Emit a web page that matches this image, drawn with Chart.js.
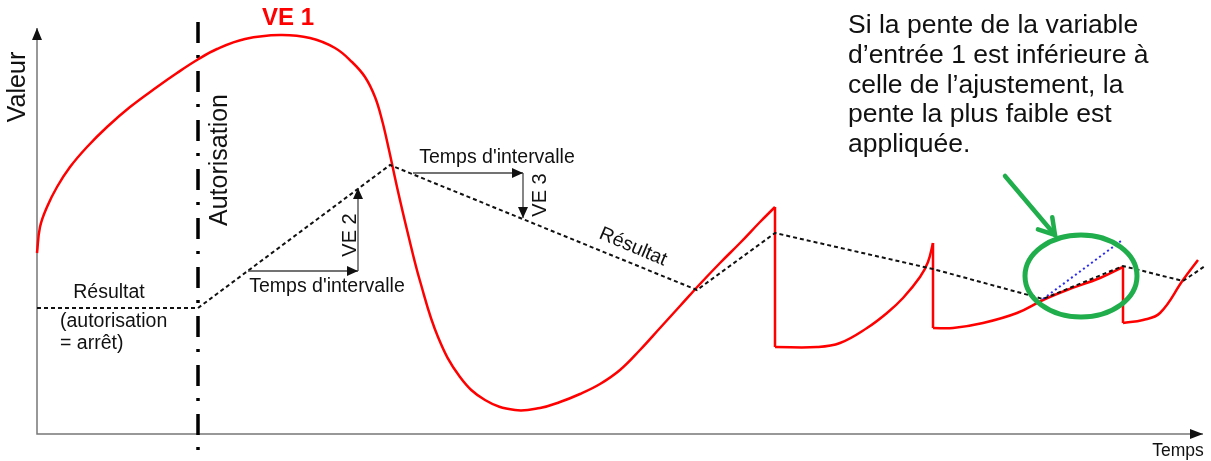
<!DOCTYPE html>
<html>
<head>
<meta charset="utf-8">
<script src="https://cdn.jsdelivr.net/npm/chart.js@4/dist/chart.umd.min.js"></script>
<style>
html,body{margin:0;padding:0;background:#fff}
#wrap{width:1211px;height:461px;position:relative}
</style>
</head>
<body>
<div id="wrap"><canvas id="c"></canvas></div>
<script>
// time (t) / value (v), origin at the axes corner
const ve1A_t = [0, 3, 10, 20, 33, 50, 70, 93, 120, 140, 160, 180, 208, 243, 273, 298, 315, 328, 338, 345, 352, 360, 371, 383, 401, 423, 448, 478, 503, 523, 543, 563, 583, 603, 623, 643, 663, 683, 703, 723, 738];
const ve1A_v = [181, 207, 227, 247, 267, 287, 307, 327, 347, 361, 374, 385, 395, 399, 396, 386, 372, 357, 337, 314, 284, 247, 200, 153, 97, 57, 34, 24, 26, 32, 40, 50, 64, 84, 106, 128, 150, 171, 191, 212, 227];
const ve1B_t = [738, 780, 803, 830, 850, 866, 883, 891, 896];
const ve1B_v = [87, 87, 91, 106, 121, 136, 157, 172, 191];
const ve1C_t = [896, 916, 946, 980, 1006, 1030, 1063, 1086];
const ve1C_v = [106, 106, 111, 121, 134, 144, 156, 167];
const ve1D_t = [1086, 1106, 1123, 1146, 1161];
const ve1D_v = [111, 114, 121, 154, 174];
// vertical resets of VE 1
const drop_t = [738, 896, 1086];
const dropTop_v = [227, 191, 167];
const dropBot_v = [87, 106, 111];

const res_t = [0, 161, 353, 660, 738, 896, 1006, 1086, 1146, 1168];
const res_v = [126, 126, 269, 144, 201, 165, 135, 168, 153, 168];

const slope_t = [1006, 1084];
const slope_v = [135, 193];

const autorisation_t = 161;

const FONT = '"Liberation Sans", Arial, Helvetica, sans-serif';
const RED = '#ff0000';
const GREEN = '#1fae4b';

function pts(ts, vs){ return ts.map((t,i)=>({x:t, y:vs[i]})); }

function line(data, color, width, opts){
  return Object.assign({data, showLine:true, borderColor:color, borderWidth:width,
    pointRadius:0, fill:false, tension:0}, opts||{});
}

const datasets = [
  line(pts(res_t, res_v), '#111', 2, {borderDash:[4,3]}),
  line(pts(slope_t, slope_v), '#2a2aff', 2, {borderDash:[2,3]}),
  line(pts(ve1A_t, ve1A_v), RED, 2.5, {tension:0.4}),
  line(pts(ve1B_t, ve1B_v), RED, 2.5, {tension:0.4}),
  line(pts(ve1C_t, ve1C_v), RED, 2.5, {tension:0.4}),
  line(pts(ve1D_t, ve1D_v), RED, 2.5, {tension:0.4}),
];
drop_t.forEach((t,i)=>{
  datasets.push(line([{x:t,y:dropTop_v[i]},{x:t,y:dropBot_v[i]}], RED, 2.5));
});

function head(ctx, x1, y1, x2, y2, len, half, color){
  const a = Math.atan2(y2-y1, x2-x1);
  ctx.save();
  ctx.fillStyle = color;
  ctx.beginPath();
  ctx.moveTo(x2, y2);
  ctx.lineTo(x2 - len*Math.cos(a) + half*Math.sin(a), y2 - len*Math.sin(a) - half*Math.cos(a));
  ctx.lineTo(x2 - len*Math.cos(a) - half*Math.sin(a), y2 - len*Math.sin(a) + half*Math.cos(a));
  ctx.closePath();
  ctx.fill();
  ctx.restore();
}

function arrow(ctx, x1, y1, x2, y2, color, w, len, half){
  ctx.save();
  ctx.strokeStyle = color; ctx.lineWidth = w;
  ctx.beginPath(); ctx.moveTo(x1,y1); ctx.lineTo(x2,y2); ctx.stroke();
  ctx.restore();
  head(ctx, x1, y1, x2, y2, len, half, '#111');
}

function text(ctx, s, x, y, size, opts){
  opts = opts||{};
  ctx.save();
  ctx.font = (opts.bold?'bold ':'') + size + 'px ' + FONT;
  ctx.fillStyle = opts.color || '#111';
  ctx.textAlign = opts.align || 'center';
  ctx.textBaseline = opts.baseline || 'middle';
  ctx.translate(x, y);
  if (opts.rot) ctx.rotate(opts.rot);
  ctx.fillText(s, 0, 0);
  ctx.restore();
}

const diagram = {
  id:'diagram',
  beforeDatasetsDraw(chart){
    const ctx = chart.ctx, X = chart.scales.x, Y = chart.scales.y;
    const px = t => X.getPixelForValue(t), py = v => Y.getPixelForValue(v);
    // axes
    ctx.save();
    ctx.strokeStyle = '#777'; ctx.lineWidth = 1.5;
    ctx.beginPath();
    ctx.moveTo(px(0), py(406)); ctx.lineTo(px(0), py(0)); ctx.lineTo(px(1166), py(0));
    ctx.stroke();
    ctx.restore();
    head(ctx, px(0), py(0), px(0), py(406), 12, 5, '#111');
    head(ctx, px(0), py(0), px(1166), py(0), 13, 5, '#111');
    // autorisation line
    ctx.save();
    ctx.strokeStyle = '#000'; ctx.lineWidth = 3.5;
    ctx.setLineDash([21,12,3,13]);
    ctx.beginPath(); ctx.moveTo(px(autorisation_t), py(412)); ctx.lineTo(px(autorisation_t), py(-27)); ctx.stroke();
    ctx.restore();
  },
  afterDatasetsDraw(chart){
    const ctx = chart.ctx, X = chart.scales.x, Y = chart.scales.y;
    const px = t => X.getPixelForValue(t), py = v => Y.getPixelForValue(v);
    // VE 2 / VE 3 construction arrows
    arrow(ctx, px(211), py(163), px(321), py(163), '#444', 1.3, 11, 5);
    arrow(ctx, px(321), py(163), px(321), py(246), '#444', 1.3, 11, 5);
    arrow(ctx, px(376), py(261), px(486), py(261), '#444', 1.3, 11, 5);
    arrow(ctx, px(486), py(261), px(486), py(216), '#444', 1.3, 11, 5);

    // green ellipse + arrow
    ctx.save();
    ctx.strokeStyle = GREEN; ctx.lineWidth = 5;
    ctx.beginPath();
    ctx.ellipse(px(1044), py(158), 56, 41, 0, 0, Math.PI*2);
    ctx.stroke();
    const ax1 = px(968), ay1 = py(258), ax2 = px(1018), ay2 = py(199);
    ctx.lineCap = 'round'; ctx.lineWidth = 4.5;
    ctx.beginPath(); ctx.moveTo(ax1, ay1); ctx.lineTo(ax2, ay2); ctx.stroke();
    const a = Math.atan2(ay2-ay1, ax2-ax1);
    ctx.beginPath();
    ctx.moveTo(ax2 - 18*Math.cos(a-0.55), ay2 - 18*Math.sin(a-0.55));
    ctx.lineTo(ax2, ay2);
    ctx.lineTo(ax2 - 18*Math.cos(a+0.55), ay2 - 18*Math.sin(a+0.55));
    ctx.stroke();
    ctx.restore();

    // labels
    const R = -Math.PI/2;
    text(ctx, 'Valeur', px(-19), py(347), 25, {rot:R});
    text(ctx, 'Autorisation', px(183), py(274), 25, {rot:R});
    text(ctx, 'VE 1', px(251), py(416), 24, {bold:true, color:RED});
    text(ctx, 'VE 2', px(313), py(199), 20, {rot:R});
    text(ctx, 'VE 3', px(503), py(239), 20, {rot:R});
    text(ctx, "Temps d'intervalle", px(290), py(147), 19.5);
    text(ctx, "Temps d'intervalle", px(460), py(276), 19.5);
    text(ctx, 'Résultat', px(596), py(187), 19.5, {rot:23*Math.PI/180});
    text(ctx, 'Résultat', px(72), py(141), 19.5);
    text(ctx, '(autorisation', px(23), py(112), 19.5, {align:'left'});
    text(ctx, '= arrêt)', px(23), py(90), 19.5, {align:'left'});
    text(ctx, 'Temps', px(1141), py(-17), 17.5);

    const note = ['Si la pente de la variable', 'd’entrée 1 est inférieure à',
      'celle de l’ajustement, la', 'pente la plus faible est', 'appliquée.'];
    note.forEach((s,i)=>{
      text(ctx, s, px(811), py(401) + i*29.75, 26.5, {align:'left', baseline:'alphabetic'});
    });
  }
};

new Chart(document.getElementById('c'), {
  type:'scatter',
  data:{datasets},
  options:{
    animation:false,
    responsive:true,
    maintainAspectRatio:false,
    layout:{padding:0},
    plugins:{legend:{display:false}, tooltip:{enabled:false}},
    scales:{
      x:{type:'linear', min:-37, max:1174, display:false},
      y:{type:'linear', min:-27, max:434, display:false}
    }
  },
  plugins:[diagram]
});
</script>
</body>
</html>
